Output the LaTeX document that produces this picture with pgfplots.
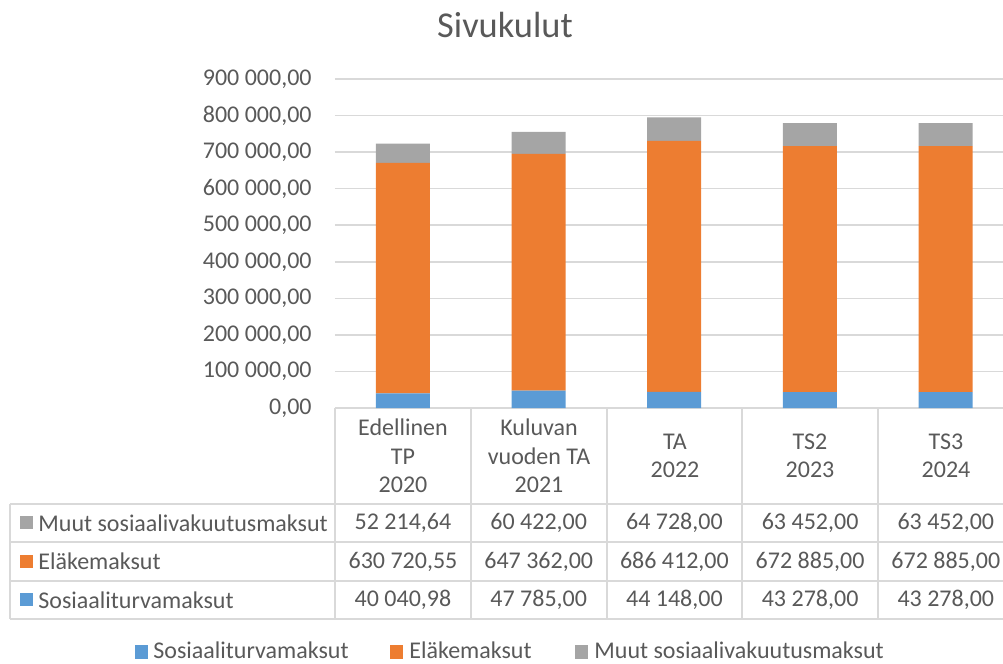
\documentclass[border=0pt]{standalone}
\usepackage{fontspec}
\setmainfont{Carlito}
\usepackage{pgfplots}
\pgfplotsset{compat=1.18}
\definecolor{csos}{HTML}{5B9BD5}
\definecolor{celak}{HTML}{ED7D31}
\definecolor{cmuut}{HTML}{A5A5A5}
\definecolor{txtgray}{HTML}{595959}
\definecolor{gridgray}{HTML}{D9D9D9}
\pgfkeys{/pgf/number format/.cd,fixed,fixed zerofill,precision=2,use comma,1000 sep={\ },assume math mode=true}
\newcommand\val[1]{\pgfmathprintnumber{#1}}

\begin{document}
\begin{tikzpicture}[font=\fontsize{12}{14}\selectfont, text=txtgray]
\useasboundingbox (0,0) rectangle (501.5pt,-332pt);
\begin{axis}[
  at={(167.5pt,-204pt)}, anchor=south west,
  scale only axis, width=339.25pt, height=164.5pt,
  ybar stacked, bar width=27pt,
  xmin=-0.5, xmax=4.5, ymin=0, ymax=900000,
  xtick=\empty,
  ytick={0,100000,...,900000},
  scaled y ticks=false,
  ymajorgrids, grid style={gridgray, line width=0.75pt},
  axis line style={draw=none},
  major tick length=0pt,
  /pgf/number format/assume math mode=true,
  yticklabel style={font=\fontsize{12}{14}\selectfont, text=txtgray, anchor=east, inner sep=0pt, xshift=-11.5pt},
  clip=false,
]
\addplot[fill=csos, draw=none] coordinates {(0,40040.98) (1,47785) (2,44148) (3,43278) (4,43278)};
\addplot[fill=celak, draw=none] coordinates {(0,630720.55) (1,647362) (2,686412) (3,672885) (4,672885)};
\addplot[fill=cmuut, draw=none] coordinates {(0,52214.64) (1,60422) (2,64728) (3,63452) (4,63452)};
\end{axis}
\begin{scope}[x=0.5pt, y=-0.5pt]
  % title
  \node[font=\fontsize{18.2}{22}\selectfont] at (505,25) {Sivukulut};
  % table grid
  \begin{scope}[draw=gridgray, line width=0.75pt]
    \foreach \y in {504,542,581,619} \draw (10,\y) -- (1014,\y);
    \draw (10,504) -- (10,619);
    \foreach \x in {335,471,607,742,878} \draw (\x,408) -- (\x,619);
  \end{scope}
  % header
  \begin{scope}[every node/.style={align=center, font=\fontsize{12}{14.25}\selectfont}]
    \node at (403,456) {Edellinen\\TP\\2020};
    \node at (539,456) {Kuluvan\\vuoden TA\\2021};
    \node at (675,456) {TA\\2022};
    \node at (810,456) {TS2\\2023};
    \node at (946,456) {TS3\\2024};
  \end{scope}
  % row labels
  \fill[cmuut] (20,516) rectangle (33,529);
  \node[anchor=west, inner sep=0pt] at (38,523) {Muut sosiaalivakuutusmaksut};
  \fill[celak] (20,555) rectangle (33,568);
  \node[anchor=west, inner sep=0pt] at (38,561.5) {Eläkemaksut};
  \fill[csos] (20,593) rectangle (33,606);
  \node[anchor=west, inner sep=0pt] at (38,600) {Sosiaaliturvamaksut};
  % values
  \foreach \v [count=\i from 0] in {52214.64,60422,64728,63452,63452}
    \node at (403+135.7*\i,523) {\val{\v}};
  \foreach \v [count=\i from 0] in {630720.55,647362,686412,672885,672885}
    \node at (403+135.7*\i,561.5) {\val{\v}};
  \foreach \v [count=\i from 0] in {40040.98,47785,44148,43278,43278}
    \node at (403+135.7*\i,600) {\val{\v}};
  % legend
  \fill[csos] (135,645) rectangle (148,659);
  \node[anchor=base west, inner sep=0pt] at (153,658) {Sosiaaliturvamaksut};
  \fill[celak] (390,645) rectangle (403,659);
  \node[anchor=base west, inner sep=0pt] at (409,658) {Eläkemaksut};
  \fill[cmuut] (575,645) rectangle (588,659);
  \node[anchor=base west, inner sep=0pt] at (594,658) {Muut sosiaalivakuutusmaksut};
\end{scope}
\end{tikzpicture}
\end{document}
